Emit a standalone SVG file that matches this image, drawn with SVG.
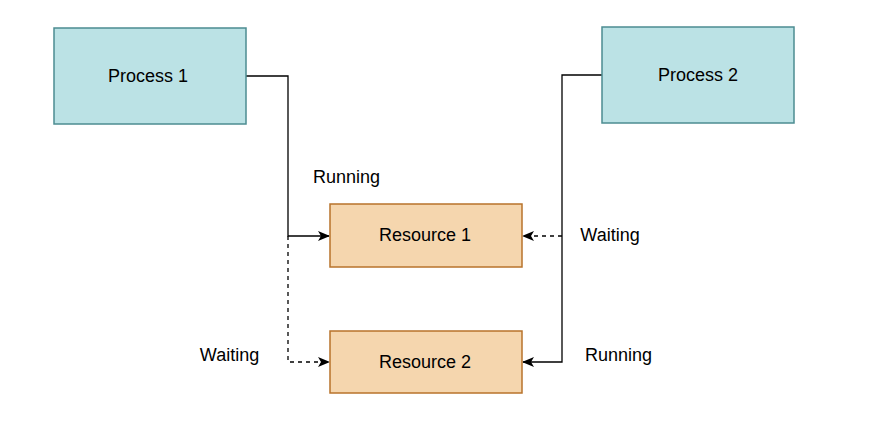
<svg xmlns="http://www.w3.org/2000/svg" width="886" height="432" viewBox="0 0 886 432">
<style>
.proc{fill:#bbe2e5;stroke:#4c8c91;stroke-width:1.5}
.res{fill:#f5d6ae;stroke:#b8732b;stroke-width:1.5}
text{font-family:"Liberation Sans",Arial,sans-serif;font-size:18px;fill:#000;text-anchor:middle}
.edge{fill:none;stroke:#000;stroke-width:1.3}
.dash{stroke-dasharray:4 4}
</style>
<defs>
<marker id="arr" viewBox="0 0 12 10" refX="11" refY="5" markerWidth="12" markerHeight="10" markerUnits="userSpaceOnUse" orient="auto">
<path d="M0,0 L12,5 L0,10 L3,5 Z" fill="#000"/>
</marker>
</defs>
<g id="edges">
<path class="edge" d="M246,76 H288 V236 H329" marker-end="url(#arr)"/>
<path class="edge dash" d="M288,236 V362 H329" marker-end="url(#arr)"/>
<path class="edge" d="M602,75 H562 V362 H523" marker-end="url(#arr)"/>
<path class="edge dash" d="M562,236 H523" marker-end="url(#arr)"/>
</g>
<g id="process1"><rect class="proc" x="54" y="28" width="192" height="96"/><text x="148" y="82">Process 1</text></g>
<g id="process2"><rect class="proc" x="602" y="27" width="192" height="96"/><text x="698" y="81">Process 2</text></g>
<g id="resource1"><rect class="res" x="330" y="204" width="192" height="63"/><text x="425" y="241">Resource 1</text></g>
<g id="resource2"><rect class="res" x="330" y="331" width="192" height="62"/><text x="425" y="368">Resource 2</text></g>
<g id="labels">
<text x="346.5" y="183">Running</text>
<text x="610" y="241">Waiting</text>
<text x="229.5" y="361">Waiting</text>
<text x="618.5" y="361">Running</text>
</g>
</svg>
